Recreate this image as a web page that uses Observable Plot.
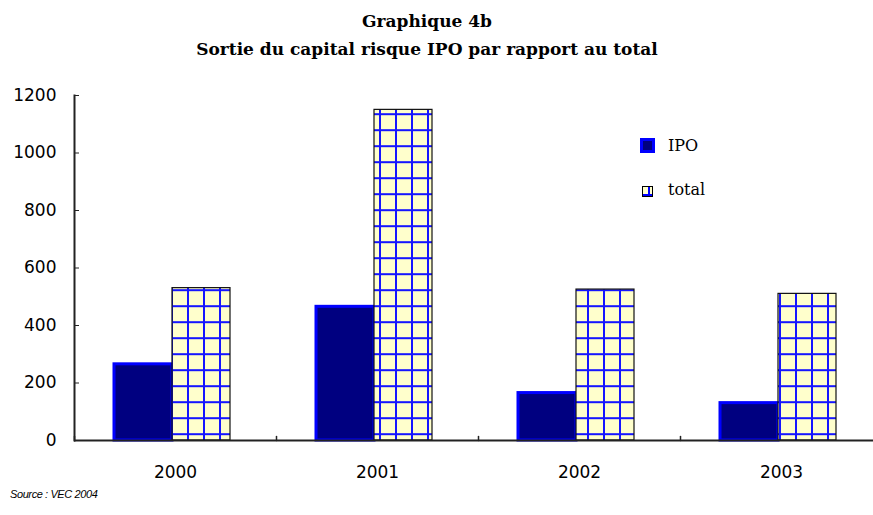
<!DOCTYPE html>
<html>
<head>
<meta charset="utf-8">
<script src="https://cdn.jsdelivr.net/npm/d3@7"></script>
<script src="https://cdn.jsdelivr.net/npm/@observablehq/plot@0.6"></script>
<style>
  body { margin: 0; background: #fff; }
  #wrap { position: relative; width: 873px; height: 515px; overflow: hidden; background: #fff; }
  #wrap svg { position: absolute; left: 0; top: 0; }
  .title { position: absolute; left: 0; top: 7px; width: 854px; text-align: center;
           font-family: "DejaVu Serif", serif; font-weight: bold; font-size: 17px; line-height: 28px; color: #000; }
  .leg { position: absolute; font-family: "DejaVu Serif", serif; font-size: 16px; line-height: 16px; color: #000; white-space: nowrap; }
  .src { position: absolute; left: 10px; top: 487px; font-family: "Liberation Sans", Arial, sans-serif;
         font-style: italic; font-size: 11px; line-height: 14px; letter-spacing: -0.4px; color: #000; }
</style>
</head>
<body>
<div id="wrap">
  <div class="title">Graphique 4b<br>Sortie du capital risque IPO par rapport au total</div>
  <div id="chart"></div>
  <div class="leg" style="left:640px;top:138px;width:15px;height:15px;box-sizing:border-box;border:3px solid #0000ff;background:#000080;"></div>
  <div class="leg" style="left:668px;top:138px;">IPO</div>
  <svg class="leg" style="left:642px;top:186px;" width="11" height="11">
    <rect x="0.5" y="0.5" width="10" height="10" fill="#ffffcc" stroke="#000"/>
    <rect x="6" y="1" width="2" height="9" fill="#0000ff"/>
    <rect x="1" y="8" width="9" height="2" fill="#0000ff"/>
  </svg>
  <div class="leg" style="left:668px;top:182px;">total</div>
  <div class="src">Source : VEC 2004</div>
</div>
<script>
// ---- data ----
const years = ["2000", "2001", "2002", "2003"];
const series = ["IPO", "total"];
const ipoValues = [265, 465, 165, 130];
const totalValues = [530, 1150, 525, 510];
const yTicks = [0, 200, 400, 600, 800, 1000, 1200];

const ipoData = years.map((year, i) => ({year, serie: "IPO", value: ipoValues[i]}));
const totalData = years.map((year, i) => ({year, serie: "total", value: totalValues[i]}));

const tickShape = {
  draw(context, l) { context.moveTo(0, 0); context.lineTo(0, -l); }
};

const plot = Plot.plot({
  width: 873,
  height: 515,
  marginTop: 95,
  marginBottom: 75,
  marginLeft: 73,
  marginRight: -10,
  style: {fontFamily: "DejaVu Sans, sans-serif", fontSize: "17px", color: "#000", background: "transparent", overflow: "visible"},
  fx: {domain: years, padding: 0, label: null},
  x: {domain: series, paddingInner: 0, paddingOuter: 0.73, align: 0.46, axis: null},
  y: {domain: [0, 1200], label: null},
  color: {type: "identity"},
  marks: [
    Plot.barY(ipoData, {fx: "year", x: "serie", y: "value", fill: "#000080", stroke: "#0000ff", strokeWidth: 3}),
    Plot.barY(totalData, {fx: "year", x: "serie", y: "value", fill: d => `url(#grid-${d.year})`, stroke: "#111", strokeWidth: 1.2}),
    Plot.ruleY([0], {stroke: "#222", strokeWidth: 2}),
    Plot.frame({anchor: "left", fx: () => years[0], stroke: "#222", strokeWidth: 2}),
    Plot.vector([0], {frameAnchor: "bottom-left", length: 4, anchor: "start", shape: tickShape, stroke: "#222", strokeWidth: 1.5}),
    Plot.axisY({ticks: yTicks, tickSize: -5, tickPadding: 23, tickFormat: d => String(d), stroke: "#222"}),
    Plot.axisFx({anchor: "bottom", tickSize: 0, tickPadding: 25})
  ]
});

// grid pattern (one per facet so that the grid is aligned in page coordinates)
const svgns = "http://www.w3.org/2000/svg";
const fxScale = plot.scale("fx");
const defs = document.createElementNS(svgns, "defs");
years.forEach(year => {
  const off = fxScale.apply(year) - fxScale.apply(years[0]);
  const p = document.createElementNS(svgns, "pattern");
  p.setAttribute("id", `grid-${year}`);
  p.setAttribute("patternUnits", "userSpaceOnUse");
  p.setAttribute("x", -off);
  p.setAttribute("y", 0);
  p.setAttribute("width", 16);
  p.setAttribute("height", 16);
  const add = (attrs) => {
    const r = document.createElementNS(svgns, "rect");
    for (const k in attrs) r.setAttribute(k, attrs[k]);
    p.appendChild(r);
  };
  add({x: 0, y: 0, width: 16, height: 16, fill: "#ffffcc"});
  add({x: 10, y: 0, width: 2, height: 16, fill: "#1515ff"});
  add({x: 0, y: 1.2, width: 16, height: 2, fill: "#1515ff"});
  defs.appendChild(p);
});
plot.insertBefore(defs, plot.firstChild);

document.getElementById("chart").appendChild(plot);
</script>
</body>
</html>
